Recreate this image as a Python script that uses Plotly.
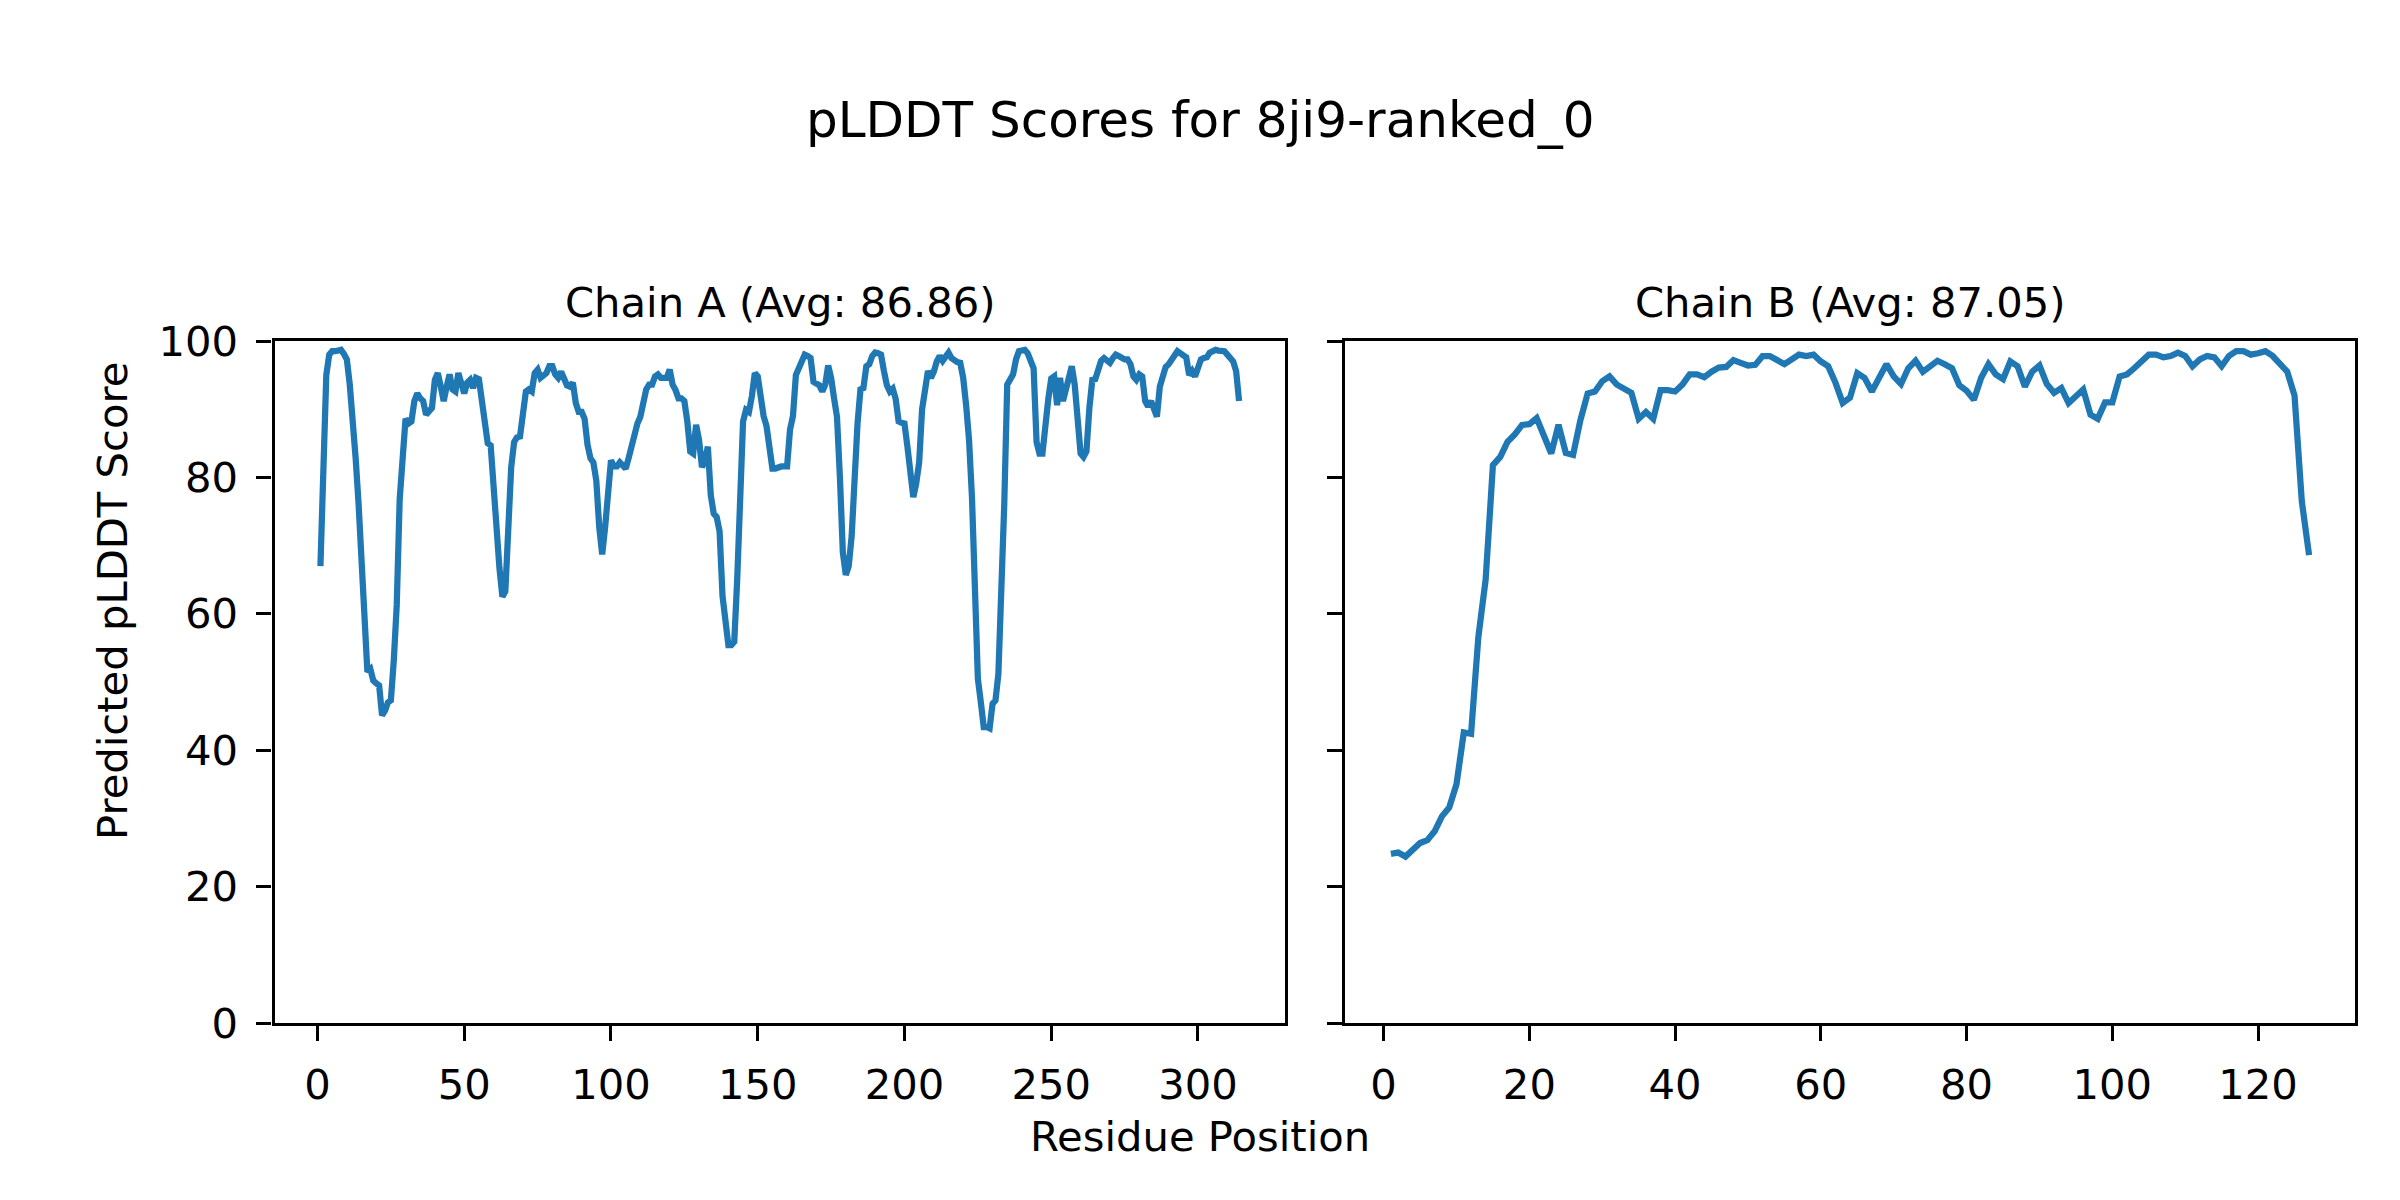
import plotly.graph_objects as go

# ---------------- data ----------------
chain_a_plddt = [
    67.0, 85.0, 95.0, 98.0, 98.5, 98.5, 98.7, 98.7, 98.1, 97.3,
    93.6, 88.9, 82.8, 76.1, 68.0, 57.2, 51.5, 51.9, 50.2, 49.8,
    49.5, 45.1, 45.8, 47.0, 47.3, 53.2, 61.3, 76.8, 84.8, 88.6,
    87.9, 88.2, 91.2, 92.3, 91.6, 91.2, 89.2, 89.9, 90.2, 94.3,
    95.3, 93.3, 91.2, 93.3, 95.1, 92.9, 92.6, 95.3, 93.9, 92.3,
    93.9, 94.3, 93.1, 94.6, 94.4, 91.6, 89.2, 85.0, 84.7, 77.4,
    72.7, 66.7, 62.5, 63.3, 73.4, 81.5, 85.2, 85.9, 86.0, 89.9,
    92.6, 92.9, 92.6, 95.3, 95.8, 94.6, 95.1, 95.3, 96.3, 96.3,
    95.1, 94.6, 95.5, 94.5, 93.5, 93.3, 93.9, 90.9, 89.6, 89.6,
    88.6, 84.8, 82.8, 82.2, 79.5, 72.7, 68.7, 72.7, 78.8, 82.5,
    81.6, 81.6, 82.2, 81.8, 81.3, 82.8, 84.5, 86.5, 87.9, 88.9,
    90.6, 92.9, 93.6, 93.6, 94.8, 95.1, 94.6, 94.5, 94.6, 95.8,
    93.6, 92.8, 91.6, 91.6, 91.2, 88.2, 83.8, 83.5, 87.7, 85.5,
    81.5, 82.5, 84.5, 77.4, 74.7, 74.2, 72.1, 62.6, 57.9, 55.4,
    55.4, 55.9, 65.0, 78.0, 88.2, 89.9, 89.6, 91.9, 95.3, 94.8,
    91.5, 89.0, 87.5, 84.6, 81.3, 81.3, 81.5, 81.6, 81.6, 81.6,
    87.0, 89.0, 95.0, 96.0, 97.5, 98.0, 97.8, 97.5, 94.0, 93.7,
    93.5, 92.6, 93.6, 96.4, 94.6, 91.6, 88.9, 80.0, 69.0, 65.7,
    67.0, 71.4, 82.2, 87.9, 92.9, 93.1, 96.3, 96.6, 97.8, 98.3,
    98.2, 98.0, 95.6, 93.5, 92.6, 93.0, 91.5, 88.2, 88.0, 87.9,
    84.5, 80.8, 77.1, 79.1, 82.2, 90.0, 93.5, 95.6, 94.6, 95.5,
    97.0, 97.8, 97.1, 97.8, 98.3, 97.5, 97.1, 96.9, 96.8, 94.6,
    90.6, 85.5, 77.0, 62.0, 50.5, 47.1, 43.4, 43.4, 43.2, 46.8,
    47.3, 51.2, 62.6, 76.1, 93.6, 94.3, 95.1, 97.3, 98.5, 98.6,
    98.7, 98.2, 97.3, 96.0, 85.2, 83.5, 83.5, 88.0, 91.5, 94.5,
    94.8, 90.6, 94.6, 91.2, 92.9, 95.0, 96.3, 93.6, 89.0, 83.5,
    83.0, 83.8, 90.2, 94.3, 94.4, 95.6, 97.1, 97.5, 97.1, 96.8,
    97.5, 98.0, 97.8, 97.4, 97.3, 97.3, 96.6, 94.8, 94.3, 95.1,
    94.8, 91.2, 90.4, 91.2, 89.9, 88.9, 93.3, 94.6, 96.2, 96.6,
    97.3, 97.8, 98.5, 98.2, 98.0, 97.6, 95.0, 95.6, 94.8, 96.3,
    97.3, 97.5, 97.6, 98.3, 98.5, 98.7, 98.6, 98.5, 98.5, 98.0,
    97.5, 97.0, 95.6, 91.2,
]

chain_b_plddt = [
    24.8, 25.0, 24.4, 25.3, 26.4, 26.8, 28.1, 30.3, 31.6, 35.0,
    42.6, 42.4, 56.6, 65.0, 81.8, 83.0, 85.2, 86.3, 87.7, 87.8,
    88.7, 86.1, 83.5, 87.7, 83.6, 83.3, 88.4, 92.3, 92.6, 94.1,
    94.8, 93.6, 93.1, 92.4, 88.6, 89.6, 88.6, 92.8, 92.8, 92.6,
    93.6, 95.1, 95.1, 94.7, 95.5, 96.1, 96.2, 97.2, 96.8, 96.4,
    96.5, 97.8, 97.8, 97.3, 96.6, 97.3, 98.0, 97.8, 98.0, 97.0,
    96.3, 93.9, 90.9, 91.7, 95.3, 94.6, 92.6, 94.6, 96.6, 94.8,
    93.7, 96.0, 97.1, 95.5, 96.4, 97.1, 96.6, 96.0, 93.5, 92.7,
    91.4, 94.6, 96.6, 95.1, 94.4, 97.0, 96.3, 93.3, 95.5, 96.4,
    93.7, 92.4, 93.1, 90.9, 91.9, 92.9, 89.2, 88.6, 91.0, 91.0,
    94.8, 95.1, 96.0, 97.1, 98.0, 98.0, 97.6, 97.8, 98.3, 97.8,
    96.3, 97.3, 97.8, 97.6, 96.3, 97.8, 98.5, 98.5, 98.0, 98.2,
    98.5, 97.8, 96.6, 95.5, 92.0, 76.5, 68.6,
]

chain_a_pos = list(range(1, len(chain_a_plddt) + 1))
chain_b_pos = list(range(1, len(chain_b_plddt) + 1))

main_title = "pLDDT Scores for 8ji9-ranked_0"
title_a = "Chain A (Avg: 86.86)"
title_b = "Chain B (Avg: 87.05)"
x_label = "Residue Position"
y_label = "Predicted pLDDT Score"
y_ticks = [0, 20, 40, 60, 80, 100]
x_ticks_a = [0, 50, 100, 150, 200, 250, 300]
x_ticks_b = [0, 20, 40, 60, 80, 100, 120]

# ---------------- styling ----------------
FONT = "DejaVu Sans"
TICK_PX = 41.7
TITLE_PX = 50
LINE_COLOR = "#1f77b4"
W, H = 2400, 1200
ML, MR, MT, MB = 60, 35, 60, 60  # fixed margins; pixel targets converted below
PW, PH = W - ML - MR, H - MT - MB


def fx(px):
    return (px - ML) / PW


def fy(py):
    return 1 - (py - MT) / PH


dom_a = [fx(274.5), fx(1285)]
dom_b = [fx(1345), fx(2355)]
dom_y = [fy(1023), fy(341)]

fig = go.Figure()
fig.add_trace(go.Scatter(x=chain_a_pos, y=chain_a_plddt, mode="lines",
                         line=dict(color=LINE_COLOR, width=6.25),
                         xaxis="x", yaxis="y", showlegend=False))
fig.add_trace(go.Scatter(x=chain_b_pos, y=chain_b_plddt, mode="lines",
                         line=dict(color=LINE_COLOR, width=6.25),
                         xaxis="x2", yaxis="y2", showlegend=False))


def span(vals, frac=0.05):
    lo, hi = min(vals), max(vals)
    m = (hi - lo) * frac
    return [lo - m, hi + m]


axis_common = dict(
    showgrid=False, zeroline=False, showline=True, linecolor="black",
    linewidth=3.3, mirror=True, ticks="outside", ticklen=15, tickwidth=3.3,
    tickcolor="black", tickfont=dict(family=FONT, size=TICK_PX, color="black"),
    automargin=False,
)

fig.update_layout(
    width=W, height=H, autosize=False,
    margin=dict(l=ML, r=MR, t=MT, b=MB, pad=0, autoexpand=False),
    paper_bgcolor="white", plot_bgcolor="white",
    font=dict(family=FONT, color="black"),
    xaxis=dict(domain=dom_a, anchor="y", range=span(chain_a_pos),
               tickvals=x_ticks_a, ticklabelstandoff=8, **axis_common),
    xaxis2=dict(domain=dom_b, anchor="y2", range=span(chain_b_pos),
                tickvals=x_ticks_b, ticklabelstandoff=8, **axis_common),
    yaxis=dict(domain=dom_y, anchor="x", range=[0, 100], tickvals=y_ticks,
               ticklabelstandoff=10, **axis_common),
    yaxis2=dict(domain=dom_y, anchor="x2", range=[0, 100], tickvals=y_ticks,
                showticklabels=False, **axis_common),
    annotations=[
        dict(text=main_title, x=fx(1200), y=fy(120), xref="paper", yref="paper",
             showarrow=False, xanchor="center", yanchor="middle",
             font=dict(family=FONT, size=TITLE_PX, color="black")),
        dict(text=title_a, x=sum(dom_a) / 2, y=fy(302), xref="paper", yref="paper",
             showarrow=False, xanchor="center", yanchor="middle",
             font=dict(family=FONT, size=TICK_PX, color="black")),
        dict(text=title_b, x=sum(dom_b) / 2, y=fy(302), xref="paper", yref="paper",
             showarrow=False, xanchor="center", yanchor="middle",
             font=dict(family=FONT, size=TICK_PX, color="black")),
        dict(text=x_label, x=fx(1200), y=fy(1136), xref="paper", yref="paper",
             showarrow=False, xanchor="center", yanchor="middle",
             font=dict(family=FONT, size=TICK_PX, color="black")),
        dict(text=y_label, x=fx(112), y=fy(601), xref="paper", yref="paper",
             showarrow=False, xanchor="center", yanchor="middle", textangle=-90,
             font=dict(family=FONT, size=TICK_PX, color="black")),
    ],
)

# remove the browser's default 8px body margin so the figure sits at the page origin
fig.write_html("out.html",
               config={"displayModeBar": False},
               post_script="document.body.style.margin='0';document.body.style.overflow='hidden';")
